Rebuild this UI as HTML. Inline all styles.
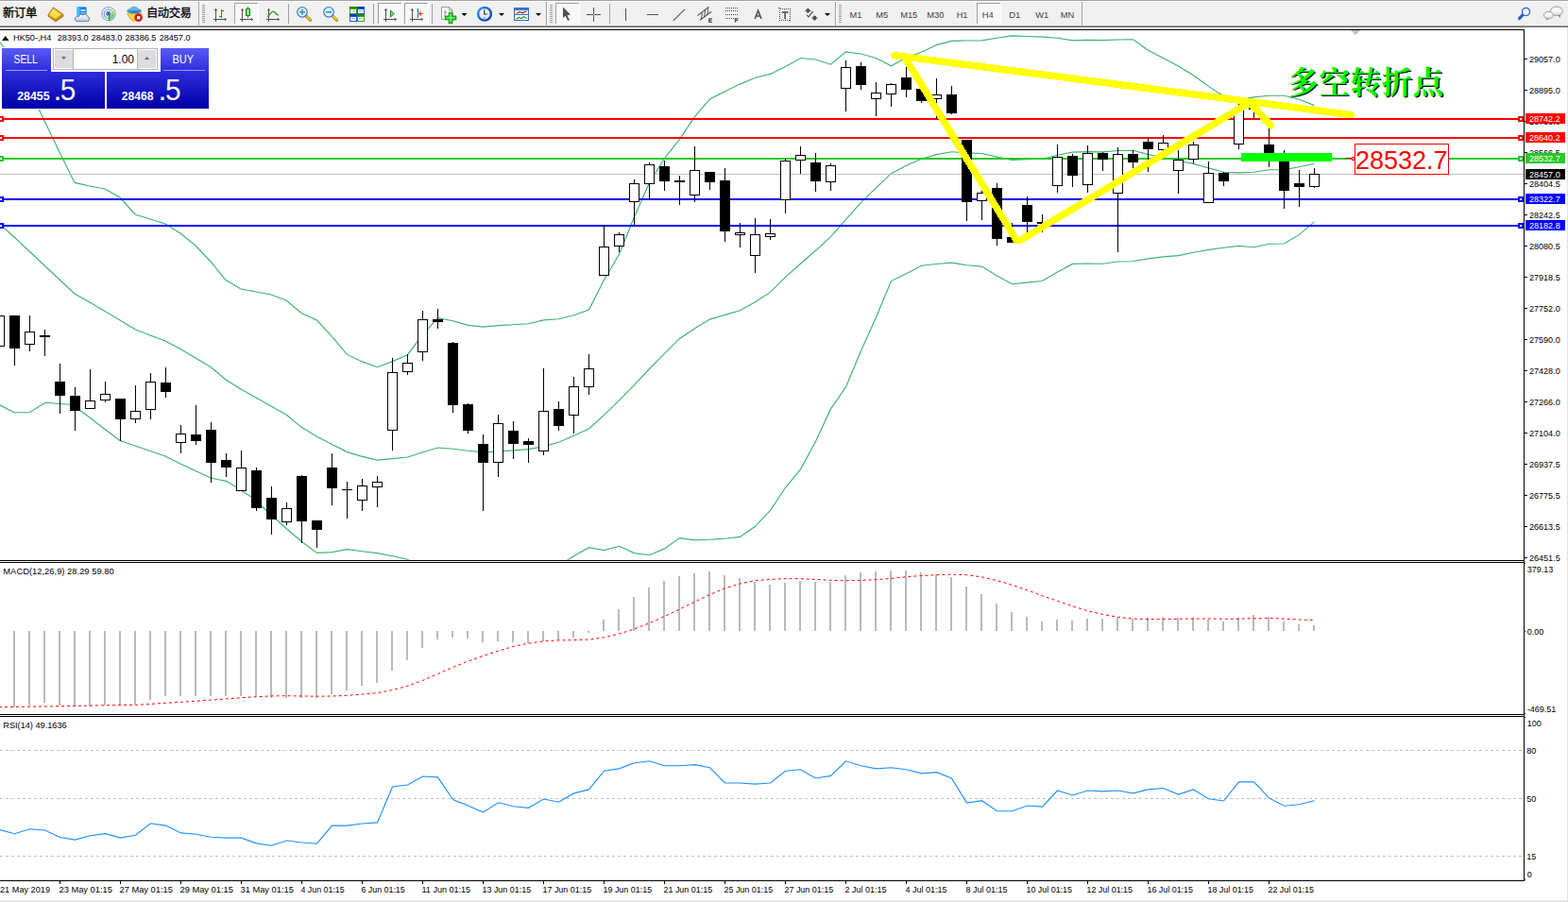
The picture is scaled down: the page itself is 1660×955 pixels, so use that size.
<!DOCTYPE html>
<html><head><meta charset="utf-8"><title>HK50 H4</title>
<style>html,body{margin:0;padding:0;background:#fff}body{width:1660px;height:955px;overflow:hidden;position:relative;font-family:"Liberation Sans",sans-serif}svg{display:block}text{font-family:"Liberation Sans",sans-serif}</style></head>
<body>
<svg width="1660" height="955" viewBox="0 0 1660 955" font-family="Liberation Sans, sans-serif" style="position:absolute;left:0;top:0">
<defs>
<linearGradient id="gb" x1="0" y1="0" x2="0" y2="1"><stop offset="0" stop-color="#5A5AF8"/><stop offset="0.35" stop-color="#3030E0"/><stop offset="1" stop-color="#0000A8"/></linearGradient>
<linearGradient id="gbt" x1="0" y1="0" x2="0" y2="1"><stop offset="0" stop-color="#5C5CFA"/><stop offset="1" stop-color="#4040EA"/></linearGradient>
<linearGradient id="gold" x1="0" y1="0" x2="1" y2="1"><stop offset="0" stop-color="#FBE25A"/><stop offset="0.5" stop-color="#E6B41E"/><stop offset="1" stop-color="#C08A18"/></linearGradient>
<linearGradient id="lens" x1="0" y1="0" x2="0" y2="1"><stop offset="0" stop-color="#C8ECFF"/><stop offset="1" stop-color="#EAF8FF"/></linearGradient>
<linearGradient id="cloud" x1="0" y1="0" x2="0" y2="1"><stop offset="0" stop-color="#FFFFFF"/><stop offset="1" stop-color="#B8C8E0"/></linearGradient>
<linearGradient id="srv" x1="0" y1="0" x2="1" y2="0"><stop offset="0" stop-color="#18A0FF"/><stop offset="1" stop-color="#1C78E8"/></linearGradient>
<linearGradient id="gcandle" x1="0" y1="0" x2="1" y2="0"><stop offset="0" stop-color="#22C022"/><stop offset="0.5" stop-color="#A8FFA8"/><stop offset="1" stop-color="#22C022"/></linearGradient>
<linearGradient id="sig" x1="0" y1="0" x2="1" y2="0"><stop offset="0" stop-color="#3C6CD8"/><stop offset="0.5" stop-color="#5A90C8"/><stop offset="1" stop-color="#3CA03C"/></linearGradient>
<pattern id="chk" width="2" height="2" patternUnits="userSpaceOnUse"><rect width="2" height="2" fill="#F0F0F0"/><rect width="1" height="1" fill="#FFF"/><rect x="1" y="1" width="1" height="1" fill="#FFF"/></pattern>
<clipPath id="cmain"><rect x="0" y="32" width="1613" height="561"/></clipPath>
<clipPath id="cmacd"><rect x="0" y="596" width="1613" height="160"/></clipPath>
<clipPath id="crsi"><rect x="0" y="759" width="1613" height="173"/></clipPath>
</defs>
<rect x="0" y="0" width="1660" height="955" fill="#FFFFFF" />
<rect x="0" y="0" width="1660" height="1" fill="#A0A0A0" />
<rect x="0" y="1" width="1660" height="1" fill="#FFFFFF" />
<rect x="0" y="2" width="1660" height="25" fill="#F0F0F0" />
<rect x="0" y="27" width="1660" height="1" fill="#A0A0A0" />
<rect x="0" y="28" width="1660" height="1" fill="#696969" />
<rect x="0" y="29" width="1660" height="2" fill="#FFFFFF" />
<rect x="1659" y="29" width="1" height="926" fill="#E2E2E2" />
<rect x="0" y="953" width="1660" height="2" fill="#E6E6E6" />
<rect x="0" y="31" width="1614" height="1" fill="#000" />
<rect x="1613" y="31" width="1" height="902" fill="#000" />
<rect x="0" y="593" width="1614" height="1" fill="#000" />
<rect x="0" y="595" width="1614" height="1" fill="#000" />
<rect x="0" y="756" width="1614" height="1" fill="#000" />
<rect x="0" y="758" width="1614" height="1" fill="#000" />
<rect x="0" y="932" width="1614" height="1" fill="#000" />
<polygon points="1430,32 1440,32 1435,37.5" fill="#C0C0C0"/>
<g clip-path="url(#cmain)" shape-rendering="crispEdges">
<g shape-rendering="auto">
<polyline points="-1.0,43.5 15.0,65.0 31.0,96.0 42.0,117.5 63.0,161.0 79.0,193.4 95.0,197.0 111.0,200.0 127.0,209.0 143.0,227.0 159.0,232.0 175.0,237.0 191.0,247.0 207.0,260.0 223.0,277.0 239.0,296.5 255.0,306.0 271.0,309.0 287.0,312.0 303.0,318.0 319.5,331.7 335.5,339.0 351.5,356.3 367.5,375.4 383.5,382.9 399.5,388.7 415.5,382.6 431.5,375.7 447.5,354.2 463.5,336.6 479.5,339.8 495.5,344.4 511.5,346.1 527.5,344.6 543.5,343.7 559.5,342.7 575.5,338.9 591.5,337.7 607.5,333.8 623.5,328.1 639.5,296.2 655.5,269.3 671.5,229.8 687.5,193.3 703.5,167.8 719.5,147.3 735.5,123.7 751.5,105.0 767.5,96.7 783.5,89.1 799.5,82.2 815.5,78.4 831.5,70.5 847.5,61.5 863.5,63.0 879.5,68.2 895.5,54.9 911.5,57.0 927.5,61.5 943.5,69.8 959.5,61.0 975.5,55.3 991.5,47.6 1007.5,43.4 1023.5,43.0 1039.5,42.9 1055.5,40.3 1071.5,37.9 1087.5,38.5 1103.5,39.1 1119.5,40.3 1135.5,42.8 1151.5,42.4 1167.5,42.6 1183.5,42.0 1199.5,41.9 1215.5,53.3 1231.5,61.5 1247.5,69.9 1263.5,79.7 1279.5,91.4 1295.5,102.0 1311.5,105.3 1327.5,102.9 1343.5,101.2 1359.5,101.2 1375.5,105.3 1391.5,111.6" fill="none" stroke="#3CB371" stroke-width="1.15" />
<polyline points="-1.0,236.5 15.0,251.0 31.0,266.0 47.0,281.0 63.0,296.0 79.0,311.0 95.0,320.0 111.0,329.5 127.0,339.0 143.0,348.7 159.0,355.0 175.0,361.0 191.0,369.5 207.0,379.0 223.0,388.5 239.0,402.0 255.0,412.0 271.0,421.0 287.0,430.0 303.0,439.0 319.5,452.6 335.5,462.2 351.5,470.4 367.5,478.6 383.5,483.4 399.5,487.1 415.5,485.6 431.5,484.0 447.5,478.8 463.5,474.0 479.5,475.2 495.5,477.2 511.5,478.8 527.5,477.9 543.5,476.9 559.5,475.6 575.5,472.6 591.5,468.3 607.5,461.3 623.5,453.9 639.5,439.4 655.5,423.8 671.5,407.7 687.5,390.5 703.5,374.4 719.5,358.4 735.5,347.8 751.5,338.1 767.5,333.4 783.5,328.8 799.5,319.8 815.5,309.4 831.5,293.4 847.5,279.2 863.5,265.3 879.5,250.6 895.5,232.3 911.5,214.3 927.5,198.8 943.5,183.7 959.5,175.3 975.5,168.2 991.5,163.6 1007.5,160.8 1023.5,161.9 1039.5,162.5 1055.5,166.1 1071.5,169.3 1087.5,168.8 1103.5,168.3 1119.5,164.2 1135.5,161.1 1151.5,160.7 1167.5,160.9 1183.5,159.5 1199.5,159.3 1215.5,163.6 1231.5,166.7 1247.5,170.2 1263.5,173.4 1279.5,177.9 1295.5,182.2 1311.5,182.8 1327.5,182.3 1343.5,179.8 1359.5,179.6 1375.5,176.8 1391.5,173.2" fill="none" stroke="#3CB371" stroke-width="1.15" />
<polyline points="-1.0,428.5 15.0,436.7 31.0,436.7 48.0,426.3 63.0,427.5 74.0,428.2 83.0,433.5 95.0,442.0 111.0,454.5 127.0,466.5 143.0,472.0 159.0,477.5 175.0,483.0 191.0,491.0 207.0,498.5 223.0,506.0 240.0,509.6 255.0,519.0 267.0,526.8 287.0,545.0 303.0,559.5 319.5,573.5 335.5,585.4 351.5,584.6 367.5,581.7 383.5,583.8 399.5,585.6 415.5,588.7 431.5,592.3 447.5,603.3 463.5,611.4 479.5,610.6 495.5,610.1 511.5,611.4 527.5,611.1 543.5,610.0 559.5,608.6 575.5,606.4 591.5,598.9 607.5,588.8 623.5,579.7 639.5,582.6 655.5,578.3 671.5,585.6 687.5,587.7 703.5,580.9 719.5,569.6 735.5,571.8 751.5,571.3 767.5,570.2 783.5,568.4 799.5,557.3 815.5,540.3 831.5,516.3 847.5,496.9 863.5,467.6 879.5,432.9 895.5,409.8 911.5,371.6 927.5,336.0 943.5,297.6 959.5,289.7 975.5,281.2 991.5,279.5 1007.5,278.2 1023.5,280.8 1039.5,282.1 1055.5,291.9 1071.5,300.7 1087.5,299.1 1103.5,297.5 1119.5,288.1 1135.5,279.4 1151.5,279.0 1167.5,279.2 1183.5,277.0 1199.5,276.7 1215.5,273.9 1231.5,271.9 1247.5,270.6 1263.5,267.2 1279.5,264.4 1295.5,262.3 1311.5,260.4 1327.5,261.7 1343.5,258.3 1359.5,258.0 1375.5,248.4 1391.5,234.9" fill="none" stroke="#3CB371" stroke-width="1.15" />
</g>
<rect x="0" y="125" width="1613" height="2" fill="#FF0000" />
<rect x="-2" y="123" width="6" height="6" fill="#FF0000" />
<rect x="0" y="125" width="2" height="2" fill="#FFF" />
<rect x="1607" y="123" width="6" height="6" fill="#FF0000" />
<rect x="1609" y="125" width="2" height="2" fill="#FFF" />
<rect x="0" y="145" width="1613" height="2" fill="#FF0000" />
<rect x="-2" y="143" width="6" height="6" fill="#FF0000" />
<rect x="0" y="145" width="2" height="2" fill="#FFF" />
<rect x="1607" y="143" width="6" height="6" fill="#FF0000" />
<rect x="1609" y="145" width="2" height="2" fill="#FFF" />
<rect x="0" y="167" width="1613" height="2" fill="#28C828" />
<rect x="-2" y="165" width="6" height="6" fill="#28C828" />
<rect x="0" y="167" width="2" height="2" fill="#FFF" />
<rect x="1607" y="165" width="6" height="6" fill="#28C828" />
<rect x="1609" y="167" width="2" height="2" fill="#FFF" />
<rect x="0" y="210" width="1613" height="2" fill="#0000FF" />
<rect x="-2" y="208" width="6" height="6" fill="#0000FF" />
<rect x="0" y="210" width="2" height="2" fill="#FFF" />
<rect x="1607" y="208" width="6" height="6" fill="#0000FF" />
<rect x="1609" y="210" width="2" height="2" fill="#FFF" />
<rect x="0" y="238" width="1613" height="2" fill="#0000FF" />
<rect x="-2" y="236" width="6" height="6" fill="#0000FF" />
<rect x="0" y="238" width="2" height="2" fill="#FFF" />
<rect x="1607" y="236" width="6" height="6" fill="#0000FF" />
<rect x="1609" y="238" width="2" height="2" fill="#FFF" />
<rect x="0" y="184" width="1613" height="1" fill="#C0C0C0" />
<rect x="-1" y="334" width="1" height="33" fill="#000" />
<rect x="-5.5" y="334.5" width="10" height="32" fill="#FFF" stroke="#000" stroke-width="1"/>
<rect x="15" y="334" width="1" height="53" fill="#000" />
<rect x="10" y="334" width="11" height="35" fill="#000" />
<rect x="31" y="334" width="1" height="38" fill="#000" />
<rect x="26.5" y="351.5" width="10" height="13" fill="#FFF" stroke="#000" stroke-width="1"/>
<rect x="47" y="349" width="1" height="28" fill="#000" />
<rect x="42" y="355" width="11" height="2" fill="#000" />
<rect x="63" y="385" width="1" height="53" fill="#000" />
<rect x="58" y="404" width="11" height="15" fill="#000" />
<rect x="79" y="410" width="1" height="46" fill="#000" />
<rect x="74" y="419" width="11" height="16" fill="#000" />
<rect x="95" y="391" width="1" height="42" fill="#000" />
<rect x="90.5" y="424.5" width="10" height="8" fill="#FFF" stroke="#000" stroke-width="1"/>
<rect x="111" y="404" width="1" height="22" fill="#000" />
<rect x="106.5" y="417.5" width="10" height="6" fill="#FFF" stroke="#000" stroke-width="1"/>
<rect x="127" y="422" width="1" height="45" fill="#000" />
<rect x="122" y="422" width="11" height="22" fill="#000" />
<rect x="143" y="408" width="1" height="40" fill="#000" />
<rect x="138.5" y="435.5" width="10" height="8" fill="#FFF" stroke="#000" stroke-width="1"/>
<rect x="159" y="395" width="1" height="49" fill="#000" />
<rect x="154.5" y="404.5" width="10" height="29" fill="#FFF" stroke="#000" stroke-width="1"/>
<rect x="175" y="389" width="1" height="32" fill="#000" />
<rect x="170" y="405" width="11" height="10" fill="#000" />
<rect x="191" y="450" width="1" height="30" fill="#000" />
<rect x="186.5" y="459.5" width="10" height="9" fill="#FFF" stroke="#000" stroke-width="1"/>
<rect x="207" y="429" width="1" height="42" fill="#000" />
<rect x="202" y="460" width="11" height="7" fill="#000" />
<rect x="223" y="447" width="1" height="64" fill="#000" />
<rect x="218" y="455" width="11" height="35" fill="#000" />
<rect x="239" y="480" width="1" height="25" fill="#000" />
<rect x="234" y="487" width="11" height="8" fill="#000" />
<rect x="255" y="477" width="1" height="43" fill="#000" />
<rect x="250.5" y="495.5" width="10" height="24" fill="#FFF" stroke="#000" stroke-width="1"/>
<rect x="271" y="495" width="1" height="46" fill="#000" />
<rect x="266" y="498" width="11" height="40" fill="#000" />
<rect x="287" y="515" width="1" height="51" fill="#000" />
<rect x="282" y="527" width="11" height="23" fill="#000" />
<rect x="303" y="532" width="1" height="24" fill="#000" />
<rect x="298.5" y="538.5" width="10" height="14" fill="#FFF" stroke="#000" stroke-width="1"/>
<rect x="319" y="503" width="1" height="72" fill="#000" />
<rect x="314" y="504" width="11" height="48" fill="#000" />
<rect x="335" y="551" width="1" height="29" fill="#000" />
<rect x="330" y="551" width="11" height="10" fill="#000" />
<rect x="351" y="480" width="1" height="55" fill="#000" />
<rect x="346" y="495" width="11" height="22" fill="#000" />
<rect x="367" y="510" width="1" height="39" fill="#000" />
<rect x="362" y="518" width="11" height="1" fill="#000" />
<rect x="383" y="507" width="1" height="34" fill="#000" />
<rect x="378.5" y="514.5" width="10" height="15" fill="#FFF" stroke="#000" stroke-width="1"/>
<rect x="399" y="504" width="1" height="33" fill="#000" />
<rect x="394.5" y="510.5" width="10" height="5" fill="#FFF" stroke="#000" stroke-width="1"/>
<rect x="415" y="379" width="1" height="98" fill="#000" />
<rect x="410.5" y="394.5" width="10" height="61" fill="#FFF" stroke="#000" stroke-width="1"/>
<rect x="431" y="375" width="1" height="22" fill="#000" />
<rect x="426.5" y="384.5" width="10" height="9" fill="#FFF" stroke="#000" stroke-width="1"/>
<rect x="447" y="329" width="1" height="53" fill="#000" />
<rect x="442.5" y="338.5" width="10" height="34" fill="#FFF" stroke="#000" stroke-width="1"/>
<rect x="463" y="327" width="1" height="21" fill="#000" />
<rect x="458" y="338" width="11" height="3" fill="#000" />
<rect x="479" y="362" width="1" height="75" fill="#000" />
<rect x="474" y="363" width="11" height="66" fill="#000" />
<rect x="495" y="427" width="1" height="32" fill="#000" />
<rect x="490" y="428" width="11" height="28" fill="#000" />
<rect x="511" y="460" width="1" height="81" fill="#000" />
<rect x="506" y="470" width="11" height="20" fill="#000" />
<rect x="527" y="439" width="1" height="66" fill="#000" />
<rect x="522.5" y="448.5" width="10" height="41" fill="#FFF" stroke="#000" stroke-width="1"/>
<rect x="543" y="446" width="1" height="40" fill="#000" />
<rect x="538" y="456" width="11" height="14" fill="#000" />
<rect x="559" y="464" width="1" height="26" fill="#000" />
<rect x="554" y="467" width="11" height="4" fill="#000" />
<rect x="575" y="390" width="1" height="92" fill="#000" />
<rect x="570.5" y="435.5" width="10" height="42" fill="#FFF" stroke="#000" stroke-width="1"/>
<rect x="591" y="425" width="1" height="31" fill="#000" />
<rect x="586" y="433" width="11" height="18" fill="#000" />
<rect x="607" y="399" width="1" height="60" fill="#000" />
<rect x="602.5" y="409.5" width="10" height="30" fill="#FFF" stroke="#000" stroke-width="1"/>
<rect x="623" y="375" width="1" height="43" fill="#000" />
<rect x="618.5" y="390.5" width="10" height="19" fill="#FFF" stroke="#000" stroke-width="1"/>
<rect x="639" y="238" width="1" height="54" fill="#000" />
<rect x="634.5" y="261.5" width="10" height="30" fill="#FFF" stroke="#000" stroke-width="1"/>
<rect x="655" y="246" width="1" height="21" fill="#000" />
<rect x="650.5" y="248.5" width="10" height="12" fill="#FFF" stroke="#000" stroke-width="1"/>
<rect x="671" y="190" width="1" height="49" fill="#000" />
<rect x="666.5" y="194.5" width="10" height="19" fill="#FFF" stroke="#000" stroke-width="1"/>
<rect x="687" y="172" width="1" height="40" fill="#000" />
<rect x="682.5" y="174.5" width="10" height="20" fill="#FFF" stroke="#000" stroke-width="1"/>
<rect x="703" y="170" width="1" height="32" fill="#000" />
<rect x="698" y="176" width="11" height="16" fill="#000" />
<rect x="719" y="186" width="1" height="31" fill="#000" />
<rect x="714" y="191" width="11" height="2" fill="#000" />
<rect x="735" y="155" width="1" height="59" fill="#000" />
<rect x="730.5" y="180.5" width="10" height="26" fill="#FFF" stroke="#000" stroke-width="1"/>
<rect x="751" y="182" width="1" height="19" fill="#000" />
<rect x="746" y="182" width="11" height="11" fill="#000" />
<rect x="767" y="178" width="1" height="78" fill="#000" />
<rect x="762" y="191" width="11" height="54" fill="#000" />
<rect x="783" y="236" width="1" height="26" fill="#000" />
<rect x="778.5" y="246.5" width="10" height="2" fill="#FFF" stroke="#000" stroke-width="1"/>
<rect x="799" y="231" width="1" height="58" fill="#000" />
<rect x="794.5" y="248.5" width="10" height="22" fill="#FFF" stroke="#000" stroke-width="1"/>
<rect x="815" y="232" width="1" height="22" fill="#000" />
<rect x="810.5" y="247.5" width="10" height="3" fill="#FFF" stroke="#000" stroke-width="1"/>
<rect x="831" y="168" width="1" height="58" fill="#000" />
<rect x="826.5" y="170.5" width="10" height="41" fill="#FFF" stroke="#000" stroke-width="1"/>
<rect x="847" y="155" width="1" height="29" fill="#000" />
<rect x="842.5" y="164.5" width="10" height="5" fill="#FFF" stroke="#000" stroke-width="1"/>
<rect x="863" y="162" width="1" height="41" fill="#000" />
<rect x="858" y="172" width="11" height="20" fill="#000" />
<rect x="879" y="173" width="1" height="29" fill="#000" />
<rect x="874.5" y="175.5" width="10" height="17" fill="#FFF" stroke="#000" stroke-width="1"/>
<rect x="895" y="64" width="1" height="54" fill="#000" />
<rect x="890.5" y="71.5" width="10" height="22" fill="#FFF" stroke="#000" stroke-width="1"/>
<rect x="911" y="66" width="1" height="29" fill="#000" />
<rect x="906" y="70" width="11" height="20" fill="#000" />
<rect x="927" y="87" width="1" height="36" fill="#000" />
<rect x="922.5" y="98.5" width="10" height="6" fill="#FFF" stroke="#000" stroke-width="1"/>
<rect x="943" y="88" width="1" height="25" fill="#000" />
<rect x="938.5" y="89.5" width="10" height="10" fill="#FFF" stroke="#000" stroke-width="1"/>
<rect x="959" y="63" width="1" height="40" fill="#000" />
<rect x="954" y="82" width="11" height="13" fill="#000" />
<rect x="975" y="94" width="1" height="15" fill="#000" />
<rect x="970" y="94" width="11" height="13" fill="#000" />
<rect x="991" y="83" width="1" height="43" fill="#000" />
<rect x="986.5" y="100.5" width="10" height="4" fill="#FFF" stroke="#000" stroke-width="1"/>
<rect x="1007" y="91" width="1" height="30" fill="#000" />
<rect x="1002" y="100" width="11" height="20" fill="#000" />
<rect x="1023" y="148" width="1" height="86" fill="#000" />
<rect x="1018" y="148" width="11" height="66" fill="#000" />
<rect x="1039" y="201" width="1" height="32" fill="#000" />
<rect x="1034.5" y="204.5" width="10" height="8" fill="#FFF" stroke="#000" stroke-width="1"/>
<rect x="1055" y="194" width="1" height="66" fill="#000" />
<rect x="1050" y="199" width="11" height="54" fill="#000" />
<rect x="1071" y="236" width="1" height="21" fill="#000" />
<rect x="1066" y="251" width="11" height="6" fill="#000" />
<rect x="1087" y="208" width="1" height="38" fill="#000" />
<rect x="1082" y="217" width="11" height="18" fill="#000" />
<rect x="1103" y="227" width="1" height="19" fill="#000" />
<rect x="1098" y="235" width="11" height="2" fill="#000" />
<rect x="1119" y="153" width="1" height="51" fill="#000" />
<rect x="1114.5" y="166.5" width="10" height="30" fill="#FFF" stroke="#000" stroke-width="1"/>
<rect x="1135" y="163" width="1" height="35" fill="#000" />
<rect x="1130" y="165" width="11" height="21" fill="#000" />
<rect x="1151" y="154" width="1" height="50" fill="#000" />
<rect x="1146.5" y="162.5" width="10" height="33" fill="#FFF" stroke="#000" stroke-width="1"/>
<rect x="1167" y="161" width="1" height="20" fill="#000" />
<rect x="1162" y="162" width="11" height="7" fill="#000" />
<rect x="1183" y="156" width="1" height="111" fill="#000" />
<rect x="1178.5" y="163.5" width="10" height="41" fill="#FFF" stroke="#000" stroke-width="1"/>
<rect x="1199" y="159" width="1" height="20" fill="#000" />
<rect x="1194" y="163" width="11" height="9" fill="#000" />
<rect x="1215" y="146" width="1" height="36" fill="#000" />
<rect x="1210" y="150" width="11" height="8" fill="#000" />
<rect x="1231" y="143" width="1" height="19" fill="#000" />
<rect x="1226.5" y="151.5" width="10" height="7" fill="#FFF" stroke="#000" stroke-width="1"/>
<rect x="1247" y="159" width="1" height="46" fill="#000" />
<rect x="1242.5" y="169.5" width="10" height="11" fill="#FFF" stroke="#000" stroke-width="1"/>
<rect x="1263" y="150" width="1" height="23" fill="#000" />
<rect x="1258.5" y="153.5" width="10" height="15" fill="#FFF" stroke="#000" stroke-width="1"/>
<rect x="1279" y="171" width="1" height="44" fill="#000" />
<rect x="1274.5" y="183.5" width="10" height="31" fill="#FFF" stroke="#000" stroke-width="1"/>
<rect x="1295" y="182" width="1" height="15" fill="#000" />
<rect x="1290" y="183" width="11" height="9" fill="#000" />
<rect x="1311" y="108" width="1" height="50" fill="#000" />
<rect x="1306.5" y="114.5" width="10" height="38" fill="#FFF" stroke="#000" stroke-width="1"/>
<rect x="1327" y="104" width="1" height="21" fill="#000" />
<rect x="1322.5" y="108.5" width="10" height="7" fill="#FFF" stroke="#000" stroke-width="1"/>
<rect x="1343" y="136" width="1" height="41" fill="#000" />
<rect x="1338" y="153" width="11" height="10" fill="#000" />
<rect x="1359" y="159" width="1" height="62" fill="#000" />
<rect x="1354" y="171" width="11" height="31" fill="#000" />
<rect x="1375" y="180" width="1" height="39" fill="#000" />
<rect x="1370" y="194" width="11" height="4" fill="#000" />
<rect x="1391" y="178" width="1" height="21" fill="#000" />
<rect x="1386.5" y="184.5" width="10" height="13" fill="#FFF" stroke="#000" stroke-width="1"/>
</g>
<g clip-path="url(#cmain)" shape-rendering="crispEdges">
<rect x="1314" y="162" width="96" height="9" fill="#00FF00" />
<rect x="1424" y="167" width="8" height="1" fill="#FF0000" />
<rect x="1431.5" y="166.5" width="2" height="3" fill="#FFF" stroke="#FF0000" stroke-width="1"/>
<rect x="1434.5" y="152.5" width="99" height="32" fill="#FFF" stroke="#FF0000" stroke-width="1"/>
<g stroke="#FFFF00" stroke-width="7.5" stroke-linecap="round" stroke-linejoin="round" fill="none">
<polyline points="947,58.6 1430,121.5"/>
<polyline points="959.3,63 1076,254.3"/><polyline points="1076,254.3 1080,254.5 1323,108.5 1345.5,133"/>
</g>
</g>
<text x="1483.8" y="178.6" font-size="27.4" fill="#FF0000" text-anchor="middle" font-weight="normal" textLength="97.6" lengthAdjust="spacingAndGlyphs">28532.7</text>
<text x="1364.6" y="100.2" font-size="32.6" fill="#101010" font-weight="bold" textLength="165" lengthAdjust="spacing" style="font-family:'Liberation Serif','Noto Serif CJK SC',serif">多空转折点</text>
<text x="1363.2" y="99.2" font-size="32.6" fill="#00FF00" font-weight="bold" textLength="165" lengthAdjust="spacing" style="font-family:'Liberation Serif','Noto Serif CJK SC',serif">多空转折点</text>
<g clip-path="url(#cmacd)">
<g shape-rendering="crispEdges">
<rect x="14" y="668" width="2" height="81" fill="#BABABA" />
<rect x="30" y="668" width="2" height="79" fill="#BABABA" />
<rect x="46" y="668" width="2" height="76" fill="#BABABA" />
<rect x="62" y="668" width="2" height="79" fill="#BABABA" />
<rect x="78" y="668" width="2" height="80" fill="#BABABA" />
<rect x="94" y="668" width="2" height="80" fill="#BABABA" />
<rect x="110" y="668" width="2" height="79" fill="#BABABA" />
<rect x="126" y="668" width="2" height="79" fill="#BABABA" />
<rect x="142" y="668" width="2" height="78" fill="#BABABA" />
<rect x="158" y="668" width="2" height="73" fill="#BABABA" />
<rect x="174" y="668" width="2" height="69" fill="#BABABA" />
<rect x="190" y="668" width="2" height="69" fill="#BABABA" />
<rect x="206" y="668" width="2" height="69" fill="#BABABA" />
<rect x="222" y="668" width="2" height="69" fill="#BABABA" />
<rect x="238" y="668" width="2" height="69" fill="#BABABA" />
<rect x="254" y="668" width="2" height="69" fill="#BABABA" />
<rect x="270" y="668" width="2" height="69" fill="#BABABA" />
<rect x="286" y="668" width="2" height="71" fill="#BABABA" />
<rect x="302" y="668" width="2" height="71" fill="#BABABA" />
<rect x="318" y="668" width="2" height="71" fill="#BABABA" />
<rect x="334" y="668" width="2" height="71" fill="#BABABA" />
<rect x="350" y="668" width="2" height="67" fill="#BABABA" />
<rect x="366" y="668" width="2" height="63" fill="#BABABA" />
<rect x="382" y="668" width="2" height="58" fill="#BABABA" />
<rect x="398" y="668" width="2" height="55" fill="#BABABA" />
<rect x="414" y="668" width="2" height="42" fill="#BABABA" />
<rect x="430" y="668" width="2" height="31" fill="#BABABA" />
<rect x="446" y="668" width="2" height="18" fill="#BABABA" />
<rect x="462" y="668" width="2" height="9" fill="#BABABA" />
<rect x="478" y="668" width="2" height="7" fill="#BABABA" />
<rect x="494" y="668" width="2" height="8" fill="#BABABA" />
<rect x="510" y="668" width="2" height="12" fill="#BABABA" />
<rect x="526" y="668" width="2" height="11" fill="#BABABA" />
<rect x="542" y="668" width="2" height="12" fill="#BABABA" />
<rect x="558" y="668" width="2" height="13" fill="#BABABA" />
<rect x="574" y="668" width="2" height="11" fill="#BABABA" />
<rect x="590" y="668" width="2" height="10" fill="#BABABA" />
<rect x="606" y="668" width="2" height="7" fill="#BABABA" />
<rect x="622" y="668" width="2" height="2" fill="#BABABA" />
<rect x="638" y="656" width="2" height="12" fill="#BABABA" />
<rect x="654" y="645" width="2" height="23" fill="#BABABA" />
<rect x="670" y="632" width="2" height="36" fill="#BABABA" />
<rect x="686" y="622" width="2" height="46" fill="#BABABA" />
<rect x="702" y="615" width="2" height="53" fill="#BABABA" />
<rect x="718" y="610" width="2" height="58" fill="#BABABA" />
<rect x="734" y="607" width="2" height="61" fill="#BABABA" />
<rect x="750" y="605" width="2" height="63" fill="#BABABA" />
<rect x="766" y="609" width="2" height="59" fill="#BABABA" />
<rect x="782" y="612" width="2" height="56" fill="#BABABA" />
<rect x="798" y="616" width="2" height="52" fill="#BABABA" />
<rect x="814" y="619" width="2" height="49" fill="#BABABA" />
<rect x="830" y="617" width="2" height="51" fill="#BABABA" />
<rect x="846" y="615" width="2" height="53" fill="#BABABA" />
<rect x="862" y="616" width="2" height="52" fill="#BABABA" />
<rect x="878" y="616" width="2" height="52" fill="#BABABA" />
<rect x="894" y="609" width="2" height="59" fill="#BABABA" />
<rect x="910" y="606" width="2" height="62" fill="#BABABA" />
<rect x="926" y="605" width="2" height="63" fill="#BABABA" />
<rect x="942" y="604" width="2" height="64" fill="#BABABA" />
<rect x="958" y="604" width="2" height="64" fill="#BABABA" />
<rect x="974" y="606" width="2" height="62" fill="#BABABA" />
<rect x="990" y="608" width="2" height="60" fill="#BABABA" />
<rect x="1006" y="611" width="2" height="57" fill="#BABABA" />
<rect x="1022" y="621" width="2" height="47" fill="#BABABA" />
<rect x="1038" y="629" width="2" height="39" fill="#BABABA" />
<rect x="1054" y="639" width="2" height="29" fill="#BABABA" />
<rect x="1070" y="648" width="2" height="20" fill="#BABABA" />
<rect x="1086" y="653" width="2" height="15" fill="#BABABA" />
<rect x="1102" y="658" width="2" height="10" fill="#BABABA" />
<rect x="1118" y="656" width="2" height="12" fill="#BABABA" />
<rect x="1134" y="657" width="2" height="11" fill="#BABABA" />
<rect x="1150" y="655" width="2" height="13" fill="#BABABA" />
<rect x="1166" y="655" width="2" height="13" fill="#BABABA" />
<rect x="1182" y="654" width="2" height="14" fill="#BABABA" />
<rect x="1198" y="655" width="2" height="13" fill="#BABABA" />
<rect x="1214" y="654" width="2" height="14" fill="#BABABA" />
<rect x="1230" y="653" width="2" height="15" fill="#BABABA" />
<rect x="1246" y="654" width="2" height="14" fill="#BABABA" />
<rect x="1262" y="654" width="2" height="14" fill="#BABABA" />
<rect x="1278" y="656" width="2" height="12" fill="#BABABA" />
<rect x="1294" y="658" width="2" height="10" fill="#BABABA" />
<rect x="1310" y="654" width="2" height="14" fill="#BABABA" />
<rect x="1326" y="651" width="2" height="17" fill="#BABABA" />
<rect x="1342" y="653" width="2" height="15" fill="#BABABA" />
<rect x="1358" y="658" width="2" height="10" fill="#BABABA" />
<rect x="1374" y="661" width="2" height="7" fill="#BABABA" />
<rect x="1390" y="662" width="2" height="6" fill="#BABABA" />
</g>
<polyline points="-1.0,748.6 15.0,748.4 31.0,748.2 47.0,748.0 63.0,747.7 79.0,747.4 95.0,747.1 111.0,746.8 143.5,746.3 159.5,745.4 175.5,744.3 191.5,743.4 207.5,742.3 223.5,741.0 239.5,739.9 255.5,738.7 271.5,737.7 287.5,736.9 303.5,736.7 319.5,737.0 335.5,737.2 351.5,737.0 367.5,736.4 383.5,735.1 399.5,733.6 415.5,730.6 431.5,726.3 447.5,720.4 463.5,713.5 479.5,706.5 495.5,700.0 511.5,694.4 527.5,689.2 543.5,684.4 559.5,681.2 575.5,678.9 591.5,677.9 607.5,677.7 623.5,677.1 639.5,674.9 655.5,671.1 671.5,666.0 687.5,659.7 703.5,652.5 719.5,645.0 735.5,637.2 751.5,629.6 767.5,622.9 783.5,618.0 799.5,614.8 815.5,613.3 831.5,612.7 847.5,612.7 863.5,613.4 879.5,614.4 895.5,614.8 911.5,614.5 927.5,613.7 943.5,612.4 959.5,610.7 975.5,609.5 991.5,608.7 1007.5,608.1 1023.5,608.7 1039.5,610.9 1055.5,614.6 1071.5,619.3 1087.5,624.8 1103.5,630.8 1119.5,636.3 1135.5,641.8 1151.5,646.7 1167.5,650.5 1183.5,653.3 1199.5,655.1 1215.5,655.7 1231.5,655.7 1247.5,655.3 1263.5,655.1 1279.5,655.0 1295.5,655.3 1311.5,655.2 1327.5,654.8 1343.5,654.6 1359.5,655.1 1375.5,656.0 1391.5,656.8" fill="none" stroke="#FF0000" stroke-width="1" stroke-dasharray="3 3"/>
</g>
<text x="3.3" y="608" font-size="9.7" fill="#000" text-anchor="start" font-weight="normal" textLength="117.4" lengthAdjust="spacingAndGlyphs">MACD(12,26,9) 28.29 59.80</text>
<g clip-path="url(#crsi)">
<line x1="0" y1="794.5" x2="1613" y2="794.5" stroke="#C0C0C0" stroke-width="1" stroke-dasharray="3 3" shape-rendering="crispEdges"/>
<line x1="0" y1="845.5" x2="1613" y2="845.5" stroke="#C0C0C0" stroke-width="1" stroke-dasharray="3 3" shape-rendering="crispEdges"/>
<line x1="0" y1="906.5" x2="1613" y2="906.5" stroke="#C0C0C0" stroke-width="1" stroke-dasharray="3 3" shape-rendering="crispEdges"/>
<polyline points="-0.5,878.4 15.5,882.7 31.5,877.8 47.5,879.0 63.5,886.5 79.5,889.1 95.5,884.8 111.5,882.7 127.5,887.1 143.5,884.2 159.5,871.8 175.5,874.1 191.5,881.9 207.5,883.3 223.5,886.2 239.5,887.1 255.5,887.1 271.5,892.9 287.5,895.2 303.5,890.0 319.5,892.0 335.5,893.2 351.5,874.1 367.5,874.1 383.5,872.0 399.5,870.9 415.5,833.0 431.5,831.0 447.5,822.0 463.5,822.9 479.5,846.6 495.5,853.0 511.5,859.9 527.5,849.8 543.5,853.8 559.5,855.3 575.5,846.0 591.5,849.2 607.5,839.9 623.5,835.9 639.5,816.2 655.5,813.9 671.5,807.8 687.5,805.8 703.5,810.7 719.5,810.7 735.5,809.6 751.5,812.8 767.5,829.0 783.5,829.0 799.5,830.1 815.5,829.0 831.5,816.2 847.5,814.8 863.5,824.0 879.5,821.4 895.5,805.8 911.5,810.7 927.5,813.9 943.5,812.8 959.5,814.8 975.5,818.8 991.5,817.7 1007.5,824.0 1023.5,850.1 1039.5,847.7 1055.5,858.7 1071.5,858.7 1087.5,853.0 1103.5,854.1 1119.5,837.0 1135.5,842.0 1151.5,837.0 1167.5,837.9 1183.5,837.0 1199.5,839.9 1215.5,835.9 1231.5,834.5 1247.5,841.1 1263.5,835.9 1279.5,845.7 1295.5,848.0 1311.5,827.8 1327.5,827.8 1343.5,844.9 1359.5,853.2 1375.5,851.8 1391.5,847.7" fill="none" stroke="#1E90FF" stroke-width="1.15" />
</g>
<text x="3.3" y="771" font-size="9.7" fill="#000" text-anchor="start" font-weight="normal" textLength="67.3" lengthAdjust="spacingAndGlyphs">RSI(14) 49.1636</text>
<rect x="1614" y="62" width="3" height="1" fill="#000" />
<text x="1619" y="65.7" font-size="9.7" fill="#000" text-anchor="start" font-weight="normal" textLength="32.7" lengthAdjust="spacingAndGlyphs">29057.0</text>
<rect x="1614" y="95" width="3" height="1" fill="#000" />
<text x="1619" y="98.7" font-size="9.7" fill="#000" text-anchor="start" font-weight="normal" textLength="32.7" lengthAdjust="spacingAndGlyphs">28895.0</text>
<rect x="1614" y="128" width="3" height="1" fill="#000" />
<text x="1619" y="131.7" font-size="9.7" fill="#000" text-anchor="start" font-weight="normal" textLength="32.7" lengthAdjust="spacingAndGlyphs">28733.0</text>
<rect x="1614" y="161" width="3" height="1" fill="#000" />
<text x="1619" y="164.7" font-size="9.7" fill="#000" text-anchor="start" font-weight="normal" textLength="32.7" lengthAdjust="spacingAndGlyphs">28566.5</text>
<rect x="1614" y="194" width="3" height="1" fill="#000" />
<text x="1619" y="197.7" font-size="9.7" fill="#000" text-anchor="start" font-weight="normal" textLength="32.7" lengthAdjust="spacingAndGlyphs">28404.5</text>
<rect x="1614" y="227" width="3" height="1" fill="#000" />
<text x="1619" y="230.7" font-size="9.7" fill="#000" text-anchor="start" font-weight="normal" textLength="32.7" lengthAdjust="spacingAndGlyphs">28242.5</text>
<rect x="1614" y="260" width="3" height="1" fill="#000" />
<text x="1619" y="263.7" font-size="9.7" fill="#000" text-anchor="start" font-weight="normal" textLength="32.7" lengthAdjust="spacingAndGlyphs">28080.5</text>
<rect x="1614" y="293" width="3" height="1" fill="#000" />
<text x="1619" y="296.7" font-size="9.7" fill="#000" text-anchor="start" font-weight="normal" textLength="32.7" lengthAdjust="spacingAndGlyphs">27918.5</text>
<rect x="1614" y="326" width="3" height="1" fill="#000" />
<text x="1619" y="329.7" font-size="9.7" fill="#000" text-anchor="start" font-weight="normal" textLength="32.7" lengthAdjust="spacingAndGlyphs">27752.0</text>
<rect x="1614" y="359" width="3" height="1" fill="#000" />
<text x="1619" y="362.7" font-size="9.7" fill="#000" text-anchor="start" font-weight="normal" textLength="32.7" lengthAdjust="spacingAndGlyphs">27590.0</text>
<rect x="1614" y="392" width="3" height="1" fill="#000" />
<text x="1619" y="395.7" font-size="9.7" fill="#000" text-anchor="start" font-weight="normal" textLength="32.7" lengthAdjust="spacingAndGlyphs">27428.0</text>
<rect x="1614" y="425" width="3" height="1" fill="#000" />
<text x="1619" y="428.7" font-size="9.7" fill="#000" text-anchor="start" font-weight="normal" textLength="32.7" lengthAdjust="spacingAndGlyphs">27266.0</text>
<rect x="1614" y="458" width="3" height="1" fill="#000" />
<text x="1619" y="461.7" font-size="9.7" fill="#000" text-anchor="start" font-weight="normal" textLength="32.7" lengthAdjust="spacingAndGlyphs">27104.0</text>
<rect x="1614" y="491" width="3" height="1" fill="#000" />
<text x="1619" y="494.7" font-size="9.7" fill="#000" text-anchor="start" font-weight="normal" textLength="32.7" lengthAdjust="spacingAndGlyphs">26937.5</text>
<rect x="1614" y="524" width="3" height="1" fill="#000" />
<text x="1619" y="527.7" font-size="9.7" fill="#000" text-anchor="start" font-weight="normal" textLength="32.7" lengthAdjust="spacingAndGlyphs">26775.5</text>
<rect x="1614" y="557" width="3" height="1" fill="#000" />
<text x="1619" y="560.7" font-size="9.7" fill="#000" text-anchor="start" font-weight="normal" textLength="32.7" lengthAdjust="spacingAndGlyphs">26613.5</text>
<rect x="1614" y="590" width="3" height="1" fill="#000" />
<text x="1619" y="593.7" font-size="9.7" fill="#000" text-anchor="start" font-weight="normal" textLength="32.7" lengthAdjust="spacingAndGlyphs">26451.5</text>
<text x="1616.7" y="606.1" font-size="9.7" fill="#000" text-anchor="start" font-weight="normal" textLength="27.7" lengthAdjust="spacingAndGlyphs">379.13</text>
<rect x="1614" y="596" width="1" height="1" fill="#000" />
<text x="1616.7" y="672.1" font-size="9.7" fill="#000" text-anchor="start" font-weight="normal" textLength="17.6" lengthAdjust="spacingAndGlyphs">0.00</text>
<rect x="1614" y="668" width="1" height="1" fill="#000" />
<text x="1616.7" y="753.6" font-size="9.7" fill="#000" text-anchor="start" font-weight="normal" textLength="30.7" lengthAdjust="spacingAndGlyphs">-469.51</text>
<rect x="1614" y="755" width="1" height="1" fill="#000" />
<text x="1616.7" y="769.3000000000001" font-size="9.7" fill="#000" text-anchor="start" font-weight="normal" textLength="15.1" lengthAdjust="spacingAndGlyphs">100</text>
<rect x="1614" y="759" width="1" height="1" fill="#000" />
<text x="1616.3" y="798.1" font-size="9.7" fill="#000" text-anchor="start" font-weight="normal" textLength="10.1" lengthAdjust="spacingAndGlyphs">80</text>
<text x="1616.3" y="849.3000000000001" font-size="9.7" fill="#000" text-anchor="start" font-weight="normal" textLength="10.1" lengthAdjust="spacingAndGlyphs">50</text>
<text x="1616.3" y="910.1" font-size="9.7" fill="#000" text-anchor="start" font-weight="normal" textLength="10.1" lengthAdjust="spacingAndGlyphs">15</text>
<text x="1616.7" y="929.2" font-size="9.7" fill="#000" text-anchor="start" font-weight="normal" textLength="5.0" lengthAdjust="spacingAndGlyphs">0</text>
<rect x="1614" y="931" width="1" height="1" fill="#000" />
<rect x="1615" y="120" width="42" height="11" fill="#FF0000" />
<text x="1619" y="129.2" font-size="9.7" fill="#FFF" text-anchor="start" font-weight="normal" textLength="32.7" lengthAdjust="spacingAndGlyphs">28742.2</text>
<rect x="1615" y="140" width="42" height="11" fill="#FF0000" />
<text x="1619" y="149.2" font-size="9.7" fill="#FFF" text-anchor="start" font-weight="normal" textLength="32.7" lengthAdjust="spacingAndGlyphs">28640.2</text>
<rect x="1615" y="162" width="42" height="11" fill="#28C828" />
<text x="1619" y="171.2" font-size="9.7" fill="#FFF" text-anchor="start" font-weight="normal" textLength="32.7" lengthAdjust="spacingAndGlyphs">28532.7</text>
<rect x="1615" y="179" width="42" height="11" fill="#000000" />
<text x="1619" y="188.2" font-size="9.7" fill="#FFF" text-anchor="start" font-weight="normal" textLength="32.7" lengthAdjust="spacingAndGlyphs">28457.0</text>
<rect x="1615" y="205" width="42" height="11" fill="#0000FF" />
<text x="1619" y="214.2" font-size="9.7" fill="#FFF" text-anchor="start" font-weight="normal" textLength="32.7" lengthAdjust="spacingAndGlyphs">28322.7</text>
<rect x="1615" y="233" width="42" height="11" fill="#0000FF" />
<text x="1619" y="242.2" font-size="9.7" fill="#FFF" text-anchor="start" font-weight="normal" textLength="32.7" lengthAdjust="spacingAndGlyphs">28182.8</text>
<text x="0" y="945.2" font-size="9.7" fill="#000" text-anchor="start" font-weight="normal" textLength="53" lengthAdjust="spacingAndGlyphs">21 May 2019</text>
<rect x="63" y="933" width="1" height="3" fill="#000" />
<text x="62.5" y="945.2" font-size="9.7" fill="#000" text-anchor="start" font-weight="normal" textLength="56.4" lengthAdjust="spacingAndGlyphs">23 May 01:15</text>
<rect x="127" y="933" width="1" height="3" fill="#000" />
<text x="126.5" y="945.2" font-size="9.7" fill="#000" text-anchor="start" font-weight="normal" textLength="56.4" lengthAdjust="spacingAndGlyphs">27 May 01:15</text>
<rect x="191" y="933" width="1" height="3" fill="#000" />
<text x="190.5" y="945.2" font-size="9.7" fill="#000" text-anchor="start" font-weight="normal" textLength="56.4" lengthAdjust="spacingAndGlyphs">29 May 01:15</text>
<rect x="255" y="933" width="1" height="3" fill="#000" />
<text x="254.5" y="945.2" font-size="9.7" fill="#000" text-anchor="start" font-weight="normal" textLength="56.4" lengthAdjust="spacingAndGlyphs">31 May 01:15</text>
<rect x="319" y="933" width="1" height="3" fill="#000" />
<text x="318.5" y="945.2" font-size="9.7" fill="#000" text-anchor="start" font-weight="normal" textLength="46.2" lengthAdjust="spacingAndGlyphs">4 Jun 01:15</text>
<rect x="383" y="933" width="1" height="3" fill="#000" />
<text x="382.5" y="945.2" font-size="9.7" fill="#000" text-anchor="start" font-weight="normal" textLength="46.2" lengthAdjust="spacingAndGlyphs">6 Jun 01:15</text>
<rect x="447" y="933" width="1" height="3" fill="#000" />
<text x="446.5" y="945.2" font-size="9.7" fill="#000" text-anchor="start" font-weight="normal" textLength="51.6" lengthAdjust="spacingAndGlyphs">11 Jun 01:15</text>
<rect x="511" y="933" width="1" height="3" fill="#000" />
<text x="510.5" y="945.2" font-size="9.7" fill="#000" text-anchor="start" font-weight="normal" textLength="51.6" lengthAdjust="spacingAndGlyphs">13 Jun 01:15</text>
<rect x="575" y="933" width="1" height="3" fill="#000" />
<text x="574.5" y="945.2" font-size="9.7" fill="#000" text-anchor="start" font-weight="normal" textLength="51.6" lengthAdjust="spacingAndGlyphs">17 Jun 01:15</text>
<rect x="639" y="933" width="1" height="3" fill="#000" />
<text x="638.5" y="945.2" font-size="9.7" fill="#000" text-anchor="start" font-weight="normal" textLength="51.6" lengthAdjust="spacingAndGlyphs">19 Jun 01:15</text>
<rect x="703" y="933" width="1" height="3" fill="#000" />
<text x="702.5" y="945.2" font-size="9.7" fill="#000" text-anchor="start" font-weight="normal" textLength="51.6" lengthAdjust="spacingAndGlyphs">21 Jun 01:15</text>
<rect x="767" y="933" width="1" height="3" fill="#000" />
<text x="766.5" y="945.2" font-size="9.7" fill="#000" text-anchor="start" font-weight="normal" textLength="51.6" lengthAdjust="spacingAndGlyphs">25 Jun 01:15</text>
<rect x="831" y="933" width="1" height="3" fill="#000" />
<text x="830.5" y="945.2" font-size="9.7" fill="#000" text-anchor="start" font-weight="normal" textLength="51.6" lengthAdjust="spacingAndGlyphs">27 Jun 01:15</text>
<rect x="895" y="933" width="1" height="3" fill="#000" />
<text x="894.5" y="945.2" font-size="9.7" fill="#000" text-anchor="start" font-weight="normal" textLength="44" lengthAdjust="spacingAndGlyphs">2 Jul 01:15</text>
<rect x="959" y="933" width="1" height="3" fill="#000" />
<text x="958.5" y="945.2" font-size="9.7" fill="#000" text-anchor="start" font-weight="normal" textLength="44" lengthAdjust="spacingAndGlyphs">4 Jul 01:15</text>
<rect x="1023" y="933" width="1" height="3" fill="#000" />
<text x="1022.5" y="945.2" font-size="9.7" fill="#000" text-anchor="start" font-weight="normal" textLength="44" lengthAdjust="spacingAndGlyphs">8 Jul 01:15</text>
<rect x="1087" y="933" width="1" height="3" fill="#000" />
<text x="1086.5" y="945.2" font-size="9.7" fill="#000" text-anchor="start" font-weight="normal" textLength="48.5" lengthAdjust="spacingAndGlyphs">10 Jul 01:15</text>
<rect x="1151" y="933" width="1" height="3" fill="#000" />
<text x="1150.5" y="945.2" font-size="9.7" fill="#000" text-anchor="start" font-weight="normal" textLength="48.5" lengthAdjust="spacingAndGlyphs">12 Jul 01:15</text>
<rect x="1215" y="933" width="1" height="3" fill="#000" />
<text x="1214.5" y="945.2" font-size="9.7" fill="#000" text-anchor="start" font-weight="normal" textLength="48.5" lengthAdjust="spacingAndGlyphs">16 Jul 01:15</text>
<rect x="1279" y="933" width="1" height="3" fill="#000" />
<text x="1278.5" y="945.2" font-size="9.7" fill="#000" text-anchor="start" font-weight="normal" textLength="48.5" lengthAdjust="spacingAndGlyphs">18 Jul 01:15</text>
<rect x="1343" y="933" width="1" height="3" fill="#000" />
<text x="1342.5" y="945.2" font-size="9.7" fill="#000" text-anchor="start" font-weight="normal" textLength="48.5" lengthAdjust="spacingAndGlyphs">22 Jul 01:15</text>
<polygon points="2,43 9.5,43 5.75,38" fill="#000"/>
<text x="14" y="43" font-size="9.7" fill="#000" text-anchor="start" font-weight="normal" textLength="40.3" lengthAdjust="spacingAndGlyphs">HK50-,H4</text>
<text x="60.8" y="43" font-size="9.7" fill="#000" text-anchor="start" font-weight="normal" textLength="32.8" lengthAdjust="spacingAndGlyphs">28393.0</text>
<text x="96.6" y="43" font-size="9.7" fill="#000" text-anchor="start" font-weight="normal" textLength="32.8" lengthAdjust="spacingAndGlyphs">28483.0</text>
<text x="132.5" y="43" font-size="9.7" fill="#000" text-anchor="start" font-weight="normal" textLength="32.8" lengthAdjust="spacingAndGlyphs">28386.5</text>
<text x="168.7" y="43" font-size="9.7" fill="#000" text-anchor="start" font-weight="normal" textLength="32.8" lengthAdjust="spacingAndGlyphs">28457.0</text>
<g shape-rendering="crispEdges">
<rect x="1" y="50" width="221" height="66" fill="#FFF" />
<path d="M2 51H54V76H111V115H2Z" fill="url(#gb)"/>
<path d="M170 51H221V115H113V76H170Z" fill="url(#gb)"/>
<rect x="6" y="74" width="44" height="1" fill="#9C9CF8" />
<rect x="173" y="74" width="44" height="1" fill="#9C9CF8" />
<rect x="54" y="51" width="116" height="25" fill="#FFF" />
<rect x="56.5" y="51.5" width="110" height="22" fill="#FFF" stroke="#B4B4B4" stroke-width="1"/>
<rect x="58" y="53" width="19" height="19" fill="#DCDCDC" />
<rect x="146" y="53" width="19" height="19" fill="#DCDCDC" />
<rect x="77" y="52" width="1" height="21" fill="#B4B4B4" />
<rect x="145" y="52" width="1" height="21" fill="#B4B4B4" />
</g>
<polygon points="65,60 70,60 67.5,63" fill="#5A64B4"/>
<polygon points="153,63 158,63 155.5,60" fill="#5A64B4"/>
<text x="27.2" y="67" font-size="12" fill="#FFF" text-anchor="middle" font-weight="normal" textLength="25.4" lengthAdjust="spacingAndGlyphs">SELL</text>
<text x="193.8" y="67" font-size="12" fill="#FFF" text-anchor="middle" font-weight="normal" textLength="22.6" lengthAdjust="spacingAndGlyphs">BUY</text>
<text x="142" y="66.5" font-size="12" fill="#000" text-anchor="end" font-weight="normal" >1.00</text>
<text x="18.2" y="105.5" font-size="12" fill="#FFF" text-anchor="start" font-weight="bold" textLength="34.4" lengthAdjust="spacingAndGlyphs">28455</text>
<text x="56.5" y="105.5" font-size="32" fill="#FFF" text-anchor="start" font-weight="normal" >.</text>
<text x="63.8" y="105.5" font-size="32" fill="#FFF" text-anchor="start" font-weight="normal" textLength="16.6" lengthAdjust="spacingAndGlyphs">5</text>
<text x="128.8" y="105.5" font-size="12" fill="#FFF" text-anchor="start" font-weight="bold" textLength="33.8" lengthAdjust="spacingAndGlyphs">28468</text>
<text x="167.5" y="105.5" font-size="32" fill="#FFF" text-anchor="start" font-weight="normal" >.</text>
<text x="175" y="105.5" font-size="32" fill="#FFF" text-anchor="start" font-weight="normal" textLength="16.6" lengthAdjust="spacingAndGlyphs">5</text>
<text x="2.9" y="18.4" font-size="12.3" fill="#000" stroke="#000" stroke-width="0.3" textLength="36.5" lengthAdjust="spacing" style="font-family:'Liberation Sans','Noto Sans CJK SC',sans-serif">新订单</text>
<path d="M56.4 7.9 L66.9 15.3 L66.9 17.3 L58.9 22.9 L50.9 17 C51.2 14.6 54.2 11.4 56.4 7.9Z" fill="url(#gold)" stroke="#9A640A" stroke-width="0.9" stroke-linejoin="round"/>
<path d="M56.6 9.4 L65.2 15.4 L58.9 19.8 L52.6 15.4 C53.4 13.4 55.4 11.4 56.6 9.4Z" fill="#FBE04A" opacity="0.8"/>
<polyline points="51.3,16.4 58.9,21 66.6,15.8" fill="none" stroke="#A8720E" stroke-width="0.7"/>
<path d="M55.5 11.5 L62 16" stroke="#FFF6A0" stroke-width="1.2" opacity="0.7" fill="none"/>
<rect x="81.5" y="7.2" width="10" height="10" rx="1" fill="url(#srv)"/>
<polygon points="81.5,7.5 84.5,9 84.5,17 81.5,17" fill="#45B8FF"/>
<rect x="85.5" y="10.2" width="5" height="1.6" fill="#D8F0FF"/><rect x="85.5" y="13.2" width="5" height="1.2" fill="#A8D8FF"/>
<path d="M81 22.6h11.4a2.6 2.6 0 0 0 .4-5.1 3 3 0 0 0-5-1.6 2.8 2.8 0 0 0-4.6 1.7A2.6 2.6 0 0 0 81 22.6z" fill="url(#cloud)" stroke="#5878B0" stroke-width="0.9"/>
<g fill="none" stroke-width="1">
<circle cx="115" cy="14.6" r="7.2" stroke="url(#sig)" opacity="0.75"/>
<circle cx="115" cy="14.6" r="4.8" stroke="url(#sig)" opacity="0.85"/>
<circle cx="115" cy="14.6" r="2.4" stroke="url(#sig)"/>
</g>
<path d="M115.3 14.6L122 14.6A7 7 0 0 1 115.3 22Z" fill="#68B868" opacity="0.55"/>
<circle cx="114.8" cy="14.4" r="1.6" fill="#2858D0"/>
<rect x="115" y="15" width="1.2" height="7.2" fill="#20A020"/>
<polygon points="134.6,14 149.6,14 147,18 141.8,22.8 138,20" fill="#F4D63C" stroke="#C8A018" stroke-width="0.8"/>
<ellipse cx="142" cy="11.6" rx="7.8" ry="3" fill="#4A9CD0"/>
<ellipse cx="142" cy="10" rx="4.2" ry="3.2" fill="#62B4E4"/>
<ellipse cx="142" cy="12.6" rx="5" ry="1.4" fill="#2F80B8"/>
<circle cx="146.6" cy="18.6" r="4.3" fill="#D82010"/>
<rect x="145" y="17" width="3.2" height="3.2" fill="#FFF"/>
<text x="155" y="18.4" font-size="12.3" fill="#000" stroke="#000" stroke-width="0.3" textLength="47.85" lengthAdjust="spacing" style="font-family:'Liberation Sans','Noto Sans CJK SC',sans-serif">自动交易</text>
<rect x="210" y="2" width="1" height="25" fill="#A0A0A0" />
<rect x="211" y="2" width="1" height="25" fill="#FFF" />
<rect x="214" y="5" width="3" height="1" fill="#A0A0A0" />
<rect x="214" y="7" width="3" height="1" fill="#A0A0A0" />
<rect x="214" y="9" width="3" height="1" fill="#A0A0A0" />
<rect x="214" y="11" width="3" height="1" fill="#A0A0A0" />
<rect x="214" y="13" width="3" height="1" fill="#A0A0A0" />
<rect x="214" y="15" width="3" height="1" fill="#A0A0A0" />
<rect x="214" y="17" width="3" height="1" fill="#A0A0A0" />
<rect x="214" y="19" width="3" height="1" fill="#A0A0A0" />
<rect x="214" y="21" width="3" height="1" fill="#A0A0A0" />
<rect x="214" y="23" width="3" height="1" fill="#A0A0A0" />
<g fill="#505050" shape-rendering="crispEdges">
<rect x="228" y="10" width="1" height="13" fill="#505050" />
<rect x="226" y="20" width="13" height="1" fill="#505050" />
</g>
<polygon points="228.5,8.8 226.8,11.2 230.2,11.2" fill="#505050"/>
<polygon points="240.2,20.5 237.8,18.8 237.8,22.2" fill="#505050"/>
<g shape-rendering="crispEdges">
<rect x="234" y="10" width="1" height="9" fill="#109010" />
<rect x="235" y="11" width="2" height="1" fill="#109010" />
<rect x="232" y="17" width="2" height="1" fill="#109010" />
</g>
<rect x="248" y="3" width="25" height="23" fill="url(#chk)" />
<rect x="248" y="3" width="25" height="1" fill="#A0A0A0" />
<rect x="248" y="3" width="1" height="23" fill="#A0A0A0" />
<rect x="273" y="3" width="1" height="23" fill="#FFF" />
<rect x="248" y="25" width="26" height="1" fill="#FFF" />
<g fill="#505050" shape-rendering="crispEdges">
<rect x="256" y="10" width="1" height="13" fill="#505050" />
<rect x="254" y="20" width="13" height="1" fill="#505050" />
</g>
<polygon points="256.5,8.8 254.8,11.2 258.2,11.2" fill="#505050"/>
<polygon points="268.2,20.5 265.8,18.8 265.8,22.2" fill="#505050"/>
<rect x="262" y="7" width="1" height="12" fill="#108810" shape-rendering="crispEdges"/>
<rect x="260.5" y="9.5" width="4" height="7" fill="url(#gcandle)" stroke="#0E8A0E" stroke-width="1"/>
<g fill="#505050" shape-rendering="crispEdges">
<rect x="284" y="10" width="1" height="13" fill="#505050" />
<rect x="282" y="20" width="13" height="1" fill="#505050" />
</g>
<polygon points="284.5,8.8 282.8,11.2 286.2,11.2" fill="#505050"/>
<polygon points="296.2,20.5 293.8,18.8 293.8,22.2" fill="#505050"/>
<path d="M283.3,17.8 C286,16 287,12 289.2,12.2 C291.5,12.5 292,15.5 294.8,16.2" fill="none" stroke="#1E961E" stroke-width="1.2"/>
<rect x="305" y="4" width="1" height="21" fill="#A0A0A0" />
<line x1="324" y1="16.8" x2="328.6" y2="21.4" stroke="#B88A10" stroke-width="3.2" stroke-linecap="round"/>
<line x1="324" y1="16.6" x2="328.4" y2="21" stroke="#F0D040" stroke-width="1.4" stroke-linecap="round"/>
<circle cx="320" cy="12.8" r="5.3" fill="url(#lens)" stroke="#3C78C8" stroke-width="1.2"/>
<rect x="317" y="12" width="6" height="1.6" fill="#3E8CB4"/>
<rect x="319.2" y="9.8" width="1.6" height="6" fill="#3E8CB4"/>
<line x1="352" y1="16.8" x2="356.6" y2="21.4" stroke="#B88A10" stroke-width="3.2" stroke-linecap="round"/>
<line x1="352" y1="16.6" x2="356.4" y2="21" stroke="#F0D040" stroke-width="1.4" stroke-linecap="round"/>
<circle cx="348" cy="12.8" r="5.3" fill="url(#lens)" stroke="#3C78C8" stroke-width="1.2"/>
<rect x="345" y="12" width="6" height="1.6" fill="#3E8CB4"/>
<rect x="370" y="7" width="8" height="8" fill="#38A018" />
<rect x="370" y="7" width="8" height="2" fill="#2C8810" />
<rect x="371" y="10" width="6" height="4" fill="#FFF" />
<rect x="372" y="11" width="4" height="1" fill="#38A018" opacity="0.5"/>
<rect x="378" y="7" width="8" height="8" fill="#2058D0" />
<rect x="378" y="7" width="8" height="2" fill="#1440B0" />
<rect x="379" y="10" width="6" height="4" fill="#FFF" />
<rect x="380" y="11" width="4" height="1" fill="#2058D0" opacity="0.5"/>
<rect x="370" y="15" width="8" height="8" fill="#2058D0" />
<rect x="370" y="15" width="8" height="2" fill="#1440B0" />
<rect x="371" y="18" width="6" height="4" fill="#FFF" />
<rect x="372" y="19" width="4" height="1" fill="#2058D0" opacity="0.5"/>
<rect x="378" y="15" width="8" height="8" fill="#38A018" />
<rect x="378" y="15" width="8" height="2" fill="#2C8810" />
<rect x="379" y="18" width="6" height="4" fill="#FFF" />
<rect x="380" y="19" width="4" height="1" fill="#38A018" opacity="0.5"/>
<rect x="395" y="4" width="1" height="21" fill="#A0A0A0" />
<rect x="400" y="3" width="25" height="23" fill="url(#chk)" />
<rect x="400" y="3" width="25" height="1" fill="#A0A0A0" />
<rect x="400" y="3" width="1" height="23" fill="#A0A0A0" />
<rect x="425" y="3" width="1" height="23" fill="#FFF" />
<rect x="400" y="25" width="26" height="1" fill="#FFF" />
<g fill="#505050" shape-rendering="crispEdges">
<rect x="408" y="10" width="1" height="13" fill="#505050" />
<rect x="406" y="20" width="13" height="1" fill="#505050" />
</g>
<polygon points="408.5,8.8 406.8,11.2 410.2,11.2" fill="#505050"/>
<polygon points="420.2,20.5 417.8,18.8 417.8,22.2" fill="#505050"/>
<polygon points="413.5,11 413.5,18 417.3,14.5" fill="#7CE07C" stroke="#109010" stroke-width="1"/>
<rect x="428" y="3" width="25" height="23" fill="url(#chk)" />
<rect x="428" y="3" width="25" height="1" fill="#A0A0A0" />
<rect x="428" y="3" width="1" height="23" fill="#A0A0A0" />
<rect x="453" y="3" width="1" height="23" fill="#FFF" />
<rect x="428" y="25" width="26" height="1" fill="#FFF" />
<g fill="#505050" shape-rendering="crispEdges">
<rect x="436" y="10" width="1" height="13" fill="#505050" />
<rect x="434" y="20" width="13" height="1" fill="#505050" />
</g>
<polygon points="436.5,8.8 434.8,11.2 438.2,11.2" fill="#505050"/>
<polygon points="448.2,20.5 445.8,18.8 445.8,22.2" fill="#505050"/>
<rect x="442" y="9" width="1" height="10" fill="#1070B0" shape-rendering="crispEdges"/>
<path d="M443.6,14.5 L448,14.5 M443.6,14.5 L446,12.3 M443.6,14.5 L446,16.7" stroke="#D84810" stroke-width="1.1" fill="none"/>
<rect x="457" y="4" width="1" height="21" fill="#A0A0A0" />
<path d="M467.5,7.5h8l3.5,3.5v9.5h-11.5z" fill="#FFF" stroke="#8C8C8C" stroke-width="0.9"/>
<path d="M475.5,7.5v3.5h3.5" fill="none" stroke="#8C8C8C" stroke-width="0.8"/>
<path d="M471,11v7M471,13h2" stroke="#707070" stroke-width="0.8" fill="none"/>
<path d="M475.2,13.2h3.8v3.8h3.9v3.9h-3.9v3.9h-3.8v-3.9h-3.9v-3.9h3.9z" fill="#1CCB1C" stroke="#0E8C0E" stroke-width="0.9"/>
<path d="M476.4,14.6h1.4v3.6h3.6v1.4h-3.6v3.6h-1.4v-3.6h-3.6v-1.4h3.6z" fill="#7CF07C"/>
<polygon points="488.5,14 494.5,14 491.5,17" fill="#000"/>
<defs><linearGradient id="ring" x1="0" y1="0" x2="1" y2="1"><stop offset="0" stop-color="#3C9CF4"/><stop offset="0.5" stop-color="#1060D4"/><stop offset="1" stop-color="#083C98"/></linearGradient><radialGradient id="face" cx="0.4" cy="0.35" r="0.7"><stop offset="0" stop-color="#FFFFFF"/><stop offset="1" stop-color="#D4DCEC"/></radialGradient></defs>
<circle cx="513" cy="14.8" r="6.9" fill="url(#face)" stroke="url(#ring)" stroke-width="2.3"/>
<path d="M512.7,10.6v4.4h3.2" stroke="#282828" stroke-width="1.2" fill="none"/>
<g fill="#808890"><rect x="512.4" y="9" width="1" height="1"/><rect x="512.4" y="19.6" width="1" height="1"/><rect x="507.4" y="14.4" width="1" height="1"/><rect x="517.8" y="14.4" width="1" height="1"/></g>
<rect x="512" y="18" width="2" height="1" fill="#60A0F0" />
<polygon points="528,14 534,14 531,17" fill="#000"/>
<rect x="544.5" y="8.5" width="15" height="13" fill="#FFF" stroke="#2C6CC4" stroke-width="1"/>
<rect x="545" y="9" width="14" height="2" fill="#3C7CD4" />
<rect x="545" y="15" width="14" height="1" fill="#2C6CC4" />
<polyline points="546.5,14 548,14 549.5,12.6 551,12.6 552.5,13.6 554,13.6 555.5,12.4 557.5,12.4" fill="none" stroke="#A01C10" stroke-width="1.1"/>
<polyline points="546.5,19.6 548,19.6 549.5,18.2 551,19.4 552.5,19.4 554.5,17.4 556,18.4 557.5,19.6" fill="none" stroke="#189018" stroke-width="1.1"/>
<polygon points="567,14 573,14 570,17" fill="#000"/>
<rect x="578" y="2" width="1" height="25" fill="#A0A0A0" />
<rect x="579" y="2" width="1" height="25" fill="#FFF" />
<rect x="582" y="5" width="3" height="1" fill="#A0A0A0" />
<rect x="582" y="7" width="3" height="1" fill="#A0A0A0" />
<rect x="582" y="9" width="3" height="1" fill="#A0A0A0" />
<rect x="582" y="11" width="3" height="1" fill="#A0A0A0" />
<rect x="582" y="13" width="3" height="1" fill="#A0A0A0" />
<rect x="582" y="15" width="3" height="1" fill="#A0A0A0" />
<rect x="582" y="17" width="3" height="1" fill="#A0A0A0" />
<rect x="582" y="19" width="3" height="1" fill="#A0A0A0" />
<rect x="582" y="21" width="3" height="1" fill="#A0A0A0" />
<rect x="582" y="23" width="3" height="1" fill="#A0A0A0" />
<rect x="588" y="3" width="25" height="23" fill="url(#chk)" />
<rect x="588" y="3" width="25" height="1" fill="#A0A0A0" />
<rect x="588" y="3" width="1" height="23" fill="#A0A0A0" />
<rect x="613" y="3" width="1" height="23" fill="#FFF" />
<rect x="588" y="25" width="26" height="1" fill="#FFF" />
<polygon points="596,7.6 596,19 598.6,16.8 601.2,22 603,21 600.4,16.2 604,15.6" fill="#505050"/>
<g shape-rendering="crispEdges">
<rect x="621" y="15" width="7" height="1" fill="#505050" />
<rect x="629" y="15" width="7" height="1" fill="#505050" />
<rect x="628" y="8" width="1" height="7" fill="#505050" />
<rect x="628" y="16" width="1" height="7" fill="#505050" />
</g>
<rect x="645" y="4" width="1" height="21" fill="#A0A0A0" />
<rect x="662" y="9" width="1" height="13" fill="#505050" shape-rendering="crispEdges"/>
<rect x="685" y="15" width="12" height="1" fill="#505050" shape-rendering="crispEdges"/>
<line x1="712.8" y1="21.8" x2="725" y2="9.8" stroke="#505050" stroke-width="1.1"/>
<g stroke="#505050" stroke-width="1.15" fill="none">
<line x1="738.4" y1="16.6" x2="750.4" y2="7.2"/><line x1="741" y1="21.4" x2="753.2" y2="12.2"/>
<path d="M742.4,20.6l1,-7.2M745.6,18.2l1,-7.2M748.8,15.8l1,-7.2" stroke-width="1"/>
<path d="M754,19.9H750.7V23.5H754M750.7,21.7H753.4" stroke-width="1.2"/>
</g>
<line x1="768" y1="8.5" x2="781" y2="8.5" stroke="#505050" stroke-width="1" stroke-dasharray="1 1" shape-rendering="crispEdges"/>
<line x1="768" y1="11.5" x2="781" y2="11.5" stroke="#505050" stroke-width="1" stroke-dasharray="1 1" shape-rendering="crispEdges"/>
<line x1="768" y1="15.5" x2="781" y2="15.5" stroke="#505050" stroke-width="1" stroke-dasharray="1 1" shape-rendering="crispEdges"/>
<line x1="768" y1="19.5" x2="777" y2="19.5" stroke="#505050" stroke-width="1" stroke-dasharray="1 1" shape-rendering="crispEdges"/>
<path d="M781.7,19.8H778.4V23.8M778.4,21.7H781" stroke="#505050" stroke-width="1.2" fill="none"/>
<path d="M799.2,20L802.6,11.2L806,20M800.5,16.9H804.7" stroke="#505050" stroke-width="1.55" fill="none" stroke-linejoin="miter"/>
<rect x="825.5" y="9.5" width="11" height="12" fill="none" stroke="#505050" stroke-width="1" stroke-dasharray="1 1" shape-rendering="crispEdges"/>
<rect x="824" y="8" width="2" height="1" fill="#505050" />
<path d="M827.6,13H834.6M831.1,13V20.2" stroke="#505050" stroke-width="1.6" fill="none"/>
<polygon points="855.4,8.4 859,12 856.9,12 856.9,13.6 853.9,13.6 853.9,12 851.8,12" fill="#505050"/>
<polygon points="862.4,22 866,18.4 863.9,18.4 863.9,16.8 860.9,16.8 860.9,18.4 858.8,18.4" fill="#505050"/>
<polyline points="854,15.8 856,17.8 860.6,12.2" fill="none" stroke="#505050" stroke-width="1.2"/>
<polygon points="873,14 879,14 876,17" fill="#000"/>
<rect x="884" y="2" width="1" height="25" fill="#A0A0A0" />
<rect x="885" y="2" width="1" height="25" fill="#FFF" />
<rect x="888" y="5" width="3" height="1" fill="#A0A0A0" />
<rect x="888" y="7" width="3" height="1" fill="#A0A0A0" />
<rect x="888" y="9" width="3" height="1" fill="#A0A0A0" />
<rect x="888" y="11" width="3" height="1" fill="#A0A0A0" />
<rect x="888" y="13" width="3" height="1" fill="#A0A0A0" />
<rect x="888" y="15" width="3" height="1" fill="#A0A0A0" />
<rect x="888" y="17" width="3" height="1" fill="#A0A0A0" />
<rect x="888" y="19" width="3" height="1" fill="#A0A0A0" />
<rect x="888" y="21" width="3" height="1" fill="#A0A0A0" />
<rect x="888" y="23" width="3" height="1" fill="#A0A0A0" />
<rect x="1034" y="3" width="25" height="23" fill="url(#chk)" />
<rect x="1034" y="3" width="25" height="1" fill="#A0A0A0" />
<rect x="1034" y="3" width="1" height="23" fill="#A0A0A0" />
<rect x="1059" y="3" width="1" height="23" fill="#FFF" />
<rect x="1034" y="25" width="26" height="1" fill="#FFF" />
<text x="906" y="18.9" font-size="9.3" fill="#404040" text-anchor="middle" font-weight="normal" >M1</text>
<text x="933.8" y="18.9" font-size="9.3" fill="#404040" text-anchor="middle" font-weight="normal" >M5</text>
<text x="962.2" y="18.9" font-size="9.3" fill="#404040" text-anchor="middle" font-weight="normal" >M15</text>
<text x="990.4" y="18.9" font-size="9.3" fill="#404040" text-anchor="middle" font-weight="normal" >M30</text>
<text x="1018.6" y="18.9" font-size="9.3" fill="#404040" text-anchor="middle" font-weight="normal" >H1</text>
<text x="1045.8" y="18.9" font-size="9.3" fill="#404040" text-anchor="middle" font-weight="normal" >H4</text>
<text x="1074.3" y="18.9" font-size="9.3" fill="#404040" text-anchor="middle" font-weight="normal" >D1</text>
<text x="1103.2" y="18.9" font-size="9.3" fill="#404040" text-anchor="middle" font-weight="normal" >W1</text>
<text x="1130" y="18.9" font-size="9.3" fill="#404040" text-anchor="middle" font-weight="normal" >MN</text>
<rect x="1145" y="2" width="1" height="25" fill="#A0A0A0" />
<line x1="1612.4" y1="15.4" x2="1608.4" y2="19.6" stroke="#2A5CD4" stroke-width="3" stroke-linecap="round"/>
<circle cx="1615.5" cy="12.4" r="4" fill="#FAFAFF" stroke="#2858D2" stroke-width="1.3"/>
<defs><linearGradient id="bub" x1="0" y1="0" x2="0" y2="1"><stop offset="0" stop-color="#FFFFFF"/><stop offset="0.55" stop-color="#F4F4F6"/><stop offset="1" stop-color="#D4D4DE"/></linearGradient></defs>
<polygon points="1649.6,16.4 1651.6,19 1651.8,15.6" fill="#707070"/>
<ellipse cx="1648" cy="11.8" rx="6.5" ry="4.7" fill="url(#bub)" stroke="#8E8E8E" stroke-width="0.9"/>
<polygon points="1637.6,19.4 1636.6,21.8 1639.6,19.8" fill="#707070"/>
<ellipse cx="1639.4" cy="16.1" rx="5" ry="3.8" fill="url(#bub)" stroke="#8E8E8E" stroke-width="0.9"/>
</svg>
</body></html>
